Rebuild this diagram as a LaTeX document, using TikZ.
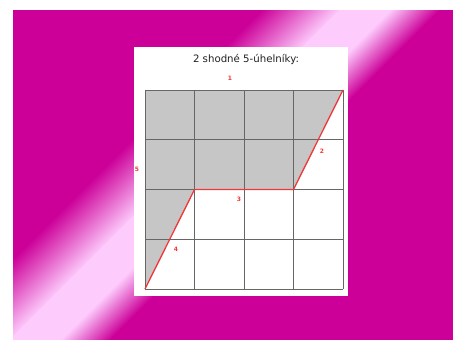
\documentclass[tikz,border=0pt]{standalone}
\usepackage{fontspec}
\setmainfont{DejaVu Sans}
\usepackage{xcolor}
\usepackage{tikz}
\definecolor{bg-mag}{HTML}{CC0099}
\definecolor{bg-pink}{HTML}{FDCBFC}
\definecolor{cut-red}{HTML}{F03838}
\definecolor{cell-gray}{HTML}{C6C6C6}
\definecolor{line-gray}{HTML}{666666}
\definecolor{title-gray}{HTML}{222222}

\begin{document}
\begin{tikzpicture}[x=1pt, y=-1pt,
    cell/.style={draw=line-gray, line width=1pt},
    upper/.style={fill=cell-gray},
    cut/.style={draw=cut-red, line width=1.3pt, line join=round},
    side/.style={text=cut-red, font=\fontsize{6}{7}\selectfont\bfseries, inner sep=0pt},
    heading/.style={text=title-gray, font=\fontsize{10.2}{12}\selectfont, inner sep=0pt}
]
    \useasboundingbox (0,0) rectangle (453,340);

    % background with the light band
    \begin{scope}
        \clip (13,10) rectangle (453,340);
        \fill[bg-mag] (13,10) rectangle (453,340);
        \begin{scope}[transform canvas={rotate=-45}]
            \shade[left color=bg-mag, right color=bg-pink] (192,-400) rectangle (248,400);
            \fill[bg-pink] (247,-400) rectangle (284,400);
            \shade[left color=bg-pink, right color=bg-mag] (283,-400) rectangle (318,400);
        \end{scope}
    \end{scope}

    % white sheet
    \fill[white] (134,47) rectangle (348,296);
    \node (title) [heading] at (246,59) {2 shodné 5-úhelníky:};

    % 4x4 grid
    \begin{scope}[shift={(145,90)}, x=49.5pt, y=-49.75pt]
        \coordinate (tl) at (0,0);
        \coordinate (tr) at (4,0);
        \coordinate (mr) at (3,2);
        \coordinate (ml) at (1,2);
        \coordinate (bl) at (0,4);
        \fill[upper] (tl) -- (tr) -- (mr) -- (ml) -- (bl) -- cycle;
        \foreach \i in {0,...,4} {
            \draw[cell] (\i,0) -- (\i,4);
            \draw[cell] (0,\i) -- (4,\i);
        }
        \draw[cut] (tr) -- (mr) -- (ml) -- (bl);
    \end{scope}

    \node (side1) [side] at (230,78) {1};
    \node (side2) [side] at (322,151) {2};
    \node (side3) [side] at (239,199) {3};
    \node (side4) [side] at (176,249) {4};
    \node (side5) [side] at (137,169) {5};
\end{tikzpicture}
\end{document}
